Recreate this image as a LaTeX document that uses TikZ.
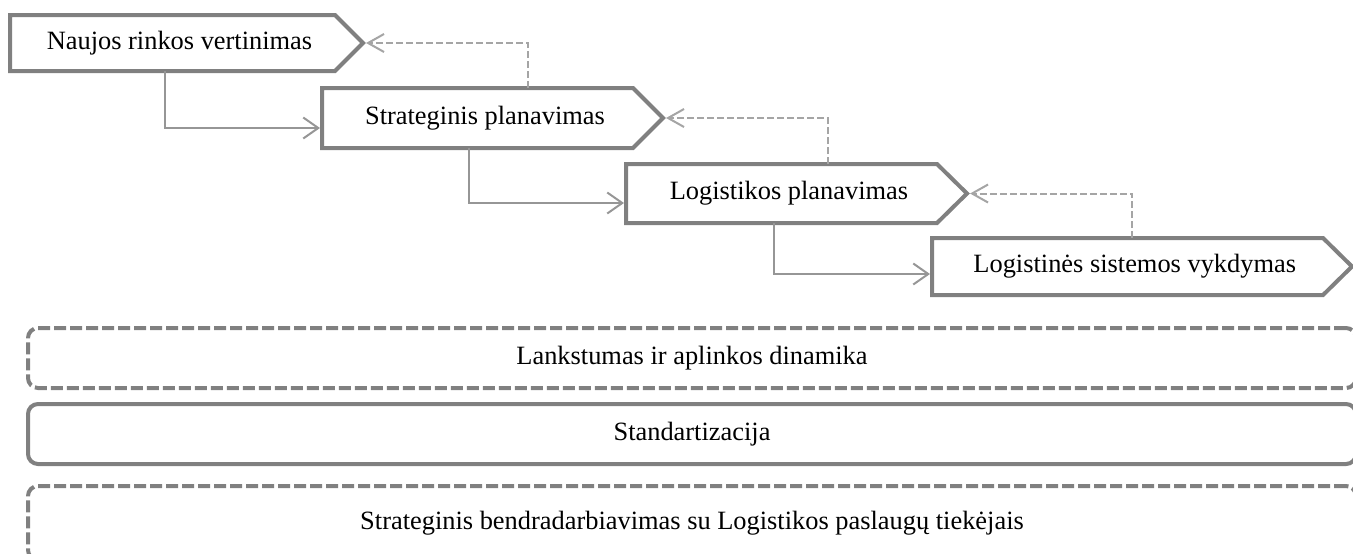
\documentclass[tikz,border=0pt]{standalone}
\usepackage{fontspec}
\setmainfont{Liberation Serif}
\usetikzlibrary{arrows.meta,calc}
\definecolor{boxgray}{RGB}{128,128,128}
\definecolor{flowgray}{RGB}{150,150,150}
\definecolor{backgray}{RGB}{165,165,165}
\newcommand\stepoutline[2]{%
  \draw[boxline] (#1.north west) -- ($(#1.north east)+(-#2,0)$) -- ($(#1.east)+(#2,0)$) coordinate (#1tip) -- ($(#1.south east)+(-#2,0)$) -- (#1.south west) -- cycle;}
\begin{document}
\begin{tikzpicture}[x=0.5pt,y=-0.5pt,
  stepbox/.style={rectangle, inner sep=0pt, outer sep=0pt, font=\fontsize{13.2}{15}\selectfont},
  boxline/.style={draw=boxgray, line width=2pt, line join=miter},
  flow/.style={draw=flowgray, line width=1pt, shorten >=1pt, -{Straight Barb[length=7.5pt,width=10.5pt]}},
  back/.style={draw=backgray, line width=1pt, dash pattern=on 3.5pt off 1.5pt, shorten >=1.5pt, -{Straight Barb[length=8pt,width=9pt]}},
  band/.style={rectangle, draw=boxgray, line width=2pt, rounded corners=5pt, inner sep=0pt, minimum width=664pt, font=\fontsize{13.2}{15}\selectfont},
  dashband/.style={band, dash pattern=on 6pt off 2pt}]
\useasboundingbox (0,0) rectangle (1353,553);
\clip (0,0) rectangle (1353,553);
% steps
\node[stepbox, minimum width=169.5pt, minimum height=28pt] (b1) at (179.5,43) {Naujos rinkos vertinimas};
\node[stepbox, minimum width=163pt, minimum height=30pt] (b2) at (485,118) {Strateginis planavimas};
\node[stepbox, minimum width=163pt, minimum height=29.5pt] (b3) at (789,193.5) {Logistikos planavimas};
\node[stepbox, minimum width=202.75pt, minimum height=28.5pt] (b4) at (1134.75,266.5) {Logistinės sistemos vykdymas};
\stepoutline{b1}{14}
\stepoutline{b2}{15}
\stepoutline{b3}{15}
\stepoutline{b4}{14.5}
% forward connectors
\coordinate (v1) at (165,128);
\coordinate (v2) at (469,203);
\coordinate (v3) at (774,274);
\draw[flow] (b1.south -| v1) |- (b2.west |- v1);
\draw[flow] (b2.south -| v2) |- (b3.west |- v2);
\draw[flow] (b3.south -| v3) |- (b4.west |- v3);
% feedback connectors
\coordinate (f1) at (528,0);
\coordinate (f2) at (828,0);
\coordinate (f3) at (1132,0);
\draw[back] (b2.north -| f1) |- (b1tip);
\draw[back] (b3.north -| f2) |- (b2tip);
\draw[back] (b4.north -| f3) |- (b3tip);
% bands
\node[dashband, minimum height=30pt] (l1) at (692,358) {Lankstumas ir aplinkos dinamika};
\node[band, minimum height=30pt] (l2) at (692,434) {Standartizacija};
\node[dashband, minimum height=37pt] (l3) at (692,523) {Strateginis bendradarbiavimas su Logistikos paslaugų tiekėjais};
\end{tikzpicture}
\end{document}
